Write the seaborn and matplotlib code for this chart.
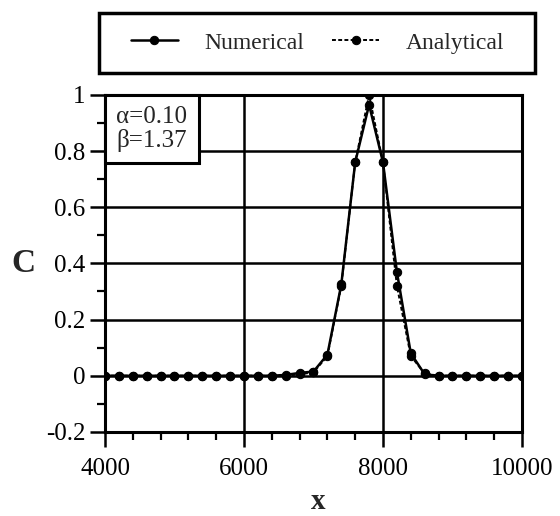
import matplotlib
matplotlib.use("Agg")
import matplotlib.pyplot as plt
from matplotlib.ticker import MultipleLocator, FixedLocator
from matplotlib.offsetbox import AnchoredText
from matplotlib.patches import Rectangle
import seaborn as sns
import pandas as pd

# Concentration profile along x: numerical scheme vs analytical solution
x_pos = [4000, 4200, 4400, 4600, 4800, 5000, 5200, 5400, 5600, 5800,
         6000, 6200, 6400, 6600, 6800, 7000, 7200, 7400, 7600, 7800,
         8000, 8200, 8400, 8600, 8800, 9000, 9200, 9400, 9600, 9800, 10000]
c_numerical = [0, 0, 0, 0, 0, 0, 0, 0, 0, 0,
               0, 0, 0, 0.003, 0.01, 0.015, 0.075, 0.325, 0.76, 0.965,
               0.76, 0.37, 0.08, 0.005, 0, 0, 0, 0, 0, 0, 0]
c_analytical = [0, 0, 0, 0, 0, 0, 0, 0, 0, 0,
                0, 0, 0, 0, 0.005, 0.012, 0.07, 0.32, 0.76, 1.0,
                0.76, 0.32, 0.07, 0.008, 0, 0, 0, 0, 0, 0, 0]
series_names = ["Numerical", "Analytical"]
x_ticks = [4000, 6000, 8000, 10000]
y_ticks = [-0.2, 0, 0.2, 0.4, 0.6, 0.8, 1]
y_tick_labels = ["-0.2", "0", "0.2", "0.4", "0.6", "0.8", "1"]
param_text = "\u03b1=0.10\n\u03b2=1.37"

sns.set_style("white")
plt.rcParams["font.family"] = ["Liberation Serif", "DejaVu Serif"]

df = pd.DataFrame({
    "x": x_pos * 2,
    "C": c_numerical + c_analytical,
    "series": [series_names[0]] * len(x_pos) + [series_names[1]] * len(x_pos),
})

fig = plt.figure(figsize=(5.6, 5.16), dpi=100)
ax = fig.add_axes([0.1875, 0.163, 0.7446, 0.653])

sns.lineplot(data=df[df.series == "Numerical"], x="x", y="C", ax=ax,
             color="black", lw=1.8, marker="o", markersize=6,
             markeredgecolor="black", label="Numerical", zorder=4)
sns.lineplot(data=df[df.series == "Analytical"], x="x", y="C", ax=ax,
             color="black", lw=1.4, linestyle=(0, (2.0, 1.2)), marker="o",
             markersize=6, markeredgecolor="black", label="Analytical", zorder=5)

ax.set_xlim(4000, 10000)
ax.set_ylim(-0.2, 1.0)
ax.xaxis.set_major_locator(FixedLocator(x_ticks))
ax.xaxis.set_minor_locator(MultipleLocator(400))
ax.set_yticks(y_ticks)
ax.set_yticklabels(y_tick_labels)
ax.yaxis.set_minor_locator(MultipleLocator(0.1))

ax.grid(True, which="major", color="black", lw=1.8)
ax.set_axisbelow(True)
for s in ax.spines.values():
    s.set_color("black")
    s.set_linewidth(2.2)

ax.tick_params(axis="both", which="major", direction="out", length=11,
               width=1.8, labelsize=18, colors="black", bottom=True, left=True)
ax.tick_params(axis="y", which="major", pad=3)
ax.tick_params(axis="x", which="major", pad=8)
ax.tick_params(axis="both", which="minor", direction="out", length=6,
               width=1.6, colors="black", bottom=True, left=True)
ax.set_xlabel("")
ax.set_ylabel("")

# parameter box in the upper-left corner
at = AnchoredText(param_text, loc="upper left", borderpad=0, frameon=True,
                  pad=0.45, prop=dict(size=18, linespacing=1.05))
at.patch.set_edgecolor("black")
at.patch.set_linewidth(2.2)
at.patch.set_facecolor("white")
at.set_zorder(6)
ax.add_artist(at)

# axis titles
fig.text(23 / 560, 1 - 264 / 516, "C", fontsize=24, fontweight="bold",
         ha="center", va="center")
fig.text(0.568, 0.001, "x", fontsize=21, fontweight="bold",
         ha="center", va="bottom")

# legend above the axes, in a wide rectangular frame
handles, labels = ax.get_legend_handles_labels()
ax.get_legend().remove()
leg = fig.legend(handles, labels, loc="center", bbox_to_anchor=(0.5665, 0.917),
                 ncol=2, fontsize=17, frameon=False,
                 handlelength=2.0, handletextpad=1.1, columnspacing=1.2,
                 borderpad=0.75)
fig.patches.append(Rectangle((99 / 560, 1 - 73 / 516), 436 / 560, 60 / 516,
                             transform=fig.transFigure, fill=False,
                             edgecolor="black", linewidth=2.5))

fig.savefig("out.png", dpi=100)
